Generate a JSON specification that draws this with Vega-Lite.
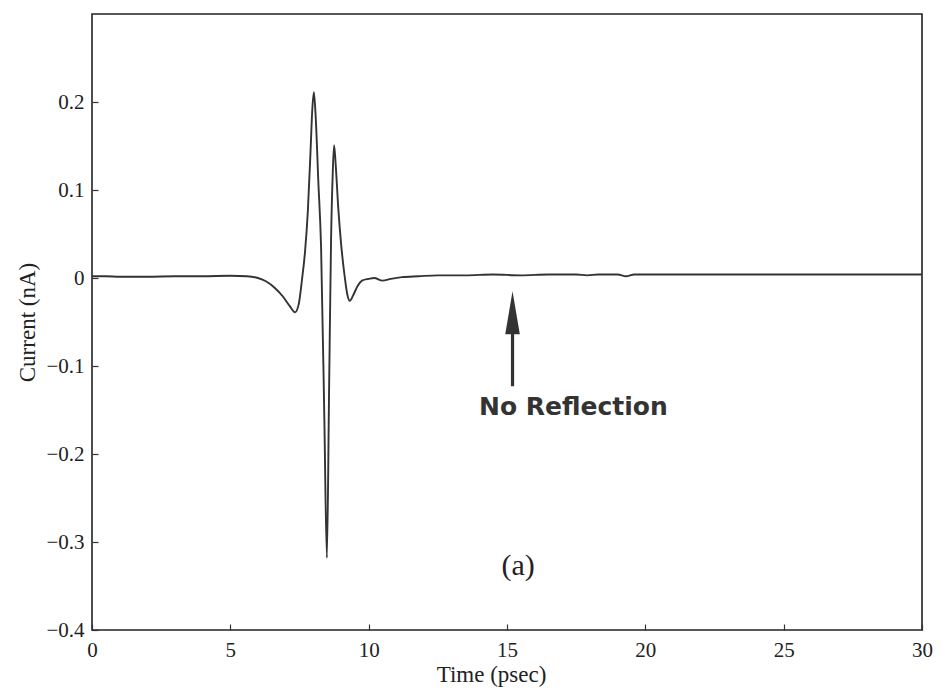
{
  "$schema": "https://vega.github.io/schema/vega-lite/v6.json",
  "width": 830,
  "height": 616,
  "autosize": "none",
  "padding": {"left": 92, "top": 14, "right": 19, "bottom": 62},
  "background": "white",
  "config": {
    "view": {"stroke": "#222222", "strokeWidth": 1.6},
    "axis": {
      "grid": false,
      "domain": false,
      "tickSize": -6,
      "tickColor": "#333333",
      "tickWidth": 1.2,
      "labelFont": "Liberation Serif",
      "labelFontSize": 21,
      "labelColor": "#222222",
      "titleFont": "Liberation Serif",
      "titleFontSize": 23,
      "titleFontWeight": "normal",
      "titleColor": "#222222"
    }
  },
  "layer": [
    {
      "data": {
        "values": [
          {"t": 0, "current": 0.002},
          {"t": 0.5, "current": 0.002},
          {"t": 1, "current": 0.0015},
          {"t": 2, "current": 0.0015},
          {"t": 3, "current": 0.002},
          {"t": 4, "current": 0.002},
          {"t": 5, "current": 0.0025},
          {"t": 5.6, "current": 0.002},
          {"t": 6.0, "current": 0.0},
          {"t": 6.3, "current": -0.004},
          {"t": 6.6, "current": -0.011},
          {"t": 6.9, "current": -0.021},
          {"t": 7.15, "current": -0.032},
          {"t": 7.34, "current": -0.039},
          {"t": 7.47, "current": -0.03},
          {"t": 7.59, "current": -0.002},
          {"t": 7.7, "current": 0.03},
          {"t": 7.8, "current": 0.075},
          {"t": 7.9, "current": 0.145},
          {"t": 7.96, "current": 0.19},
          {"t": 8.02, "current": 0.211},
          {"t": 8.09, "current": 0.18},
          {"t": 8.18, "current": 0.11},
          {"t": 8.28, "current": 0.035},
          {"t": 8.4, "current": -0.164},
          {"t": 8.49, "current": -0.318},
          {"t": 8.57, "current": -0.126},
          {"t": 8.64, "current": 0.042},
          {"t": 8.7, "current": 0.118},
          {"t": 8.75, "current": 0.151},
          {"t": 8.81, "current": 0.128},
          {"t": 8.9, "current": 0.08},
          {"t": 9.0, "current": 0.04},
          {"t": 9.14, "current": 0.0},
          {"t": 9.23, "current": -0.019},
          {"t": 9.32, "current": -0.026},
          {"t": 9.45, "current": -0.019},
          {"t": 9.6, "current": -0.009},
          {"t": 9.76, "current": -0.003},
          {"t": 10.0, "current": -0.001},
          {"t": 10.2, "current": 0.0},
          {"t": 10.5, "current": -0.003},
          {"t": 10.8, "current": -0.001},
          {"t": 11.2, "current": 0.001},
          {"t": 11.8, "current": 0.002},
          {"t": 12.5, "current": 0.003},
          {"t": 13.5, "current": 0.003},
          {"t": 14.5, "current": 0.004},
          {"t": 15.5, "current": 0.003},
          {"t": 16.5, "current": 0.004},
          {"t": 17.5, "current": 0.004},
          {"t": 17.9, "current": 0.003},
          {"t": 18.3, "current": 0.004},
          {"t": 19.0, "current": 0.004},
          {"t": 19.3, "current": 0.002},
          {"t": 19.6, "current": 0.004},
          {"t": 20.5, "current": 0.004},
          {"t": 21.5, "current": 0.004},
          {"t": 22.5, "current": 0.004},
          {"t": 23.5, "current": 0.004},
          {"t": 24.5, "current": 0.004},
          {"t": 25.5, "current": 0.004},
          {"t": 26.5, "current": 0.004},
          {"t": 27.5, "current": 0.004},
          {"t": 28.5, "current": 0.004},
          {"t": 29.5, "current": 0.004},
          {"t": 30, "current": 0.004}
        ]
      },
      "mark": {"type": "line", "color": "#333333", "strokeWidth": 1.9, "interpolate": "monotone", "clip": true},
      "encoding": {
        "x": {
          "field": "t",
          "type": "quantitative",
          "scale": {"domain": [0, 30], "nice": false, "zero": false},
          "axis": {
            "title": "Time (psec)",
            "values": [0, 5, 10, 15, 20, 25, 30],
            "labelPadding": 15,
            "labelFlush": false,
            "titlePadding": 3,
            "titleX": 399
          }
        },
        "y": {
          "field": "current",
          "type": "quantitative",
          "scale": {"domain": [-0.4, 0.3], "nice": false, "zero": false},
          "axis": {
            "title": "Current (nA)",
            "values": [-0.4, -0.3, -0.2, -0.1, 0, 0.1, 0.2],
            "format": "~g",
            "labelPadding": 14,
            "labelFlush": false,
            "titlePadding": 6
          }
        }
      }
    },
    {
      "data": {"values": [{"t": 15.2, "from": -0.123, "to": -0.05}]},
      "mark": {"type": "rule", "color": "#333333", "strokeWidth": 3.2},
      "encoding": {
        "x": {"field": "t", "type": "quantitative"},
        "y": {"field": "from", "type": "quantitative"},
        "y2": {"field": "to"}
      }
    },
    {
      "data": {"values": [{"t": 15.2, "tip": -0.0395}]},
      "mark": {
        "type": "point",
        "shape": "M0,-1L0.34,1L-0.34,1Z",
        "filled": true,
        "color": "#333333",
        "opacity": 1,
        "size": 1849
      },
      "encoding": {
        "x": {"field": "t", "type": "quantitative"},
        "y": {"field": "tip", "type": "quantitative"}
      }
    },
    {
      "data": {"values": [{"t": 17.4, "y": -0.156, "label": "No Reflection"}]},
      "mark": {
        "type": "text",
        "font": "DejaVu Sans",
        "fontWeight": "bold",
        "fontSize": 25,
        "color": "#333333",
        "align": "center",
        "baseline": "alphabetic"
      },
      "encoding": {
        "x": {"field": "t", "type": "quantitative"},
        "y": {"field": "y", "type": "quantitative"},
        "text": {"field": "label"}
      }
    },
    {
      "data": {"values": [{"t": 15.4, "y": -0.338, "label": "(a)"}]},
      "mark": {
        "type": "text",
        "font": "Liberation Serif",
        "fontSize": 30,
        "color": "#222222",
        "align": "center",
        "baseline": "alphabetic"
      },
      "encoding": {
        "x": {"field": "t", "type": "quantitative"},
        "y": {"field": "y", "type": "quantitative"},
        "text": {"field": "label"}
      }
    }
  ]
}
